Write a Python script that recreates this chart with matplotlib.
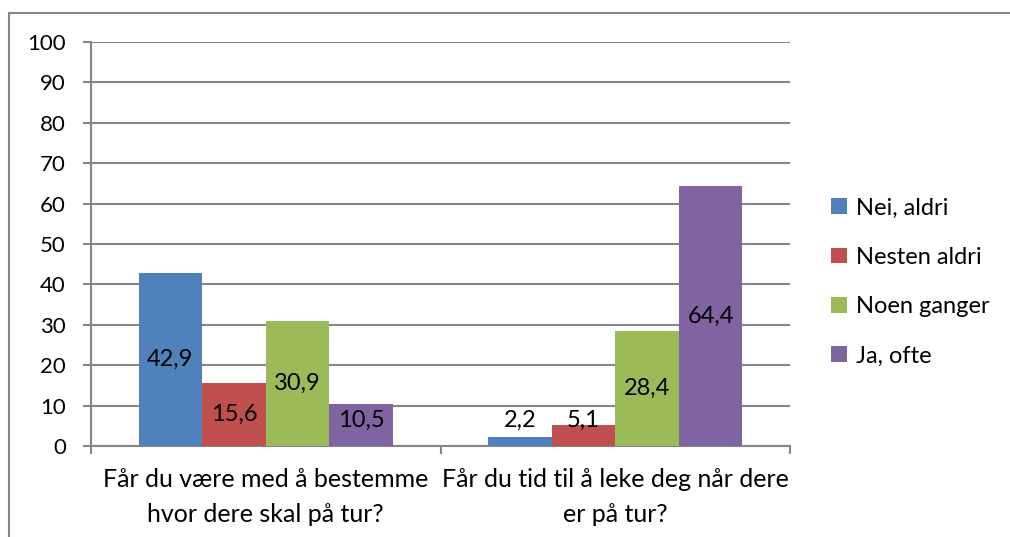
import numpy as np
import matplotlib.pyplot as plt
from matplotlib.patches import Rectangle

plt.rcParams['font.family'] = ['Lato', 'DejaVu Sans']

categories = ['Får du være med å bestemme\nhvor dere skal på tur?',
              'Får du tid til å leke deg når dere\ner på tur?']
series = ['Nei, aldri', 'Nesten aldri', 'Noen ganger', 'Ja, ofte']
nei_aldri = [42.9, 2.2]
nesten_aldri = [15.6, 5.1]
noen_ganger = [30.9, 28.4]
ja_ofte = [10.5, 64.4]
colors = ['#4F81BD', '#C0504D', '#9BBB59', '#8064A2']

values = [nei_aldri, nesten_aldri, noen_ganger, ja_ofte]

fig = plt.figure(figsize=(10.1, 5.37), dpi=100)
# outer chart frame (only left/top edges are visible in the crop)
fig.patches.append(Rectangle((9 / 1010, -0.1), 1.2, 1 - 13 / 537 + 0.1,
                             transform=fig.transFigure, fill=False,
                             edgecolor='#868686', linewidth=1.5))

ax = fig.add_axes([91 / 1010, 1 - 446 / 537, 699 / 1010, 404 / 537])

x = np.arange(len(categories))
w = 1 / 5.5
for i, (vals, col, name) in enumerate(zip(values, colors, series)):
    pos = x - 2 * w + (i + 0.5) * w
    ax.bar(pos, vals, width=w, color=col, label=name, zorder=3)
    for p, v in zip(pos, vals):
        label = ('%.1f' % v).replace('.', ',')
        ax.text(p, max(v / 2, 6.4), label, ha='center', va='center',
                fontsize=17, color='black', zorder=4)

ax.set_xlim(-0.5, 1.5)
ax.set_ylim(0, 100)
ax.set_yticks(range(0, 101, 10))
ax.tick_params(axis='y', labelsize=16, length=6, width=1.5, color='#868686', pad=12)
ax.yaxis.grid(True, color='#868686', linewidth=1.5, zorder=0)

ax.set_xticks([-0.5, 0.5, 1.5])
ax.set_xticklabels([])
ax.tick_params(axis='x', length=6, width=1.5, color='#868686')
for xi, cat in zip(x, categories):
    ax.text(xi, -5.5, cat, ha='center', va='top', fontsize=18,
            linespacing=1.6, transform=ax.transData)

for s in ['top', 'right']:
    ax.spines[s].set_visible(False)
for s in ['left', 'bottom']:
    ax.spines[s].set_color('#868686')
    ax.spines[s].set_linewidth(1.5)

ax.legend(loc='upper left', bbox_to_anchor=(822 / 1010, 1 - 188 / 537),
          bbox_transform=fig.transFigure, frameon=False, fontsize=17,
          handlelength=0.65, handleheight=0.65, handletextpad=0.4,
          labelspacing=1.2, borderaxespad=0)

fig.savefig('out.png', dpi=100)
